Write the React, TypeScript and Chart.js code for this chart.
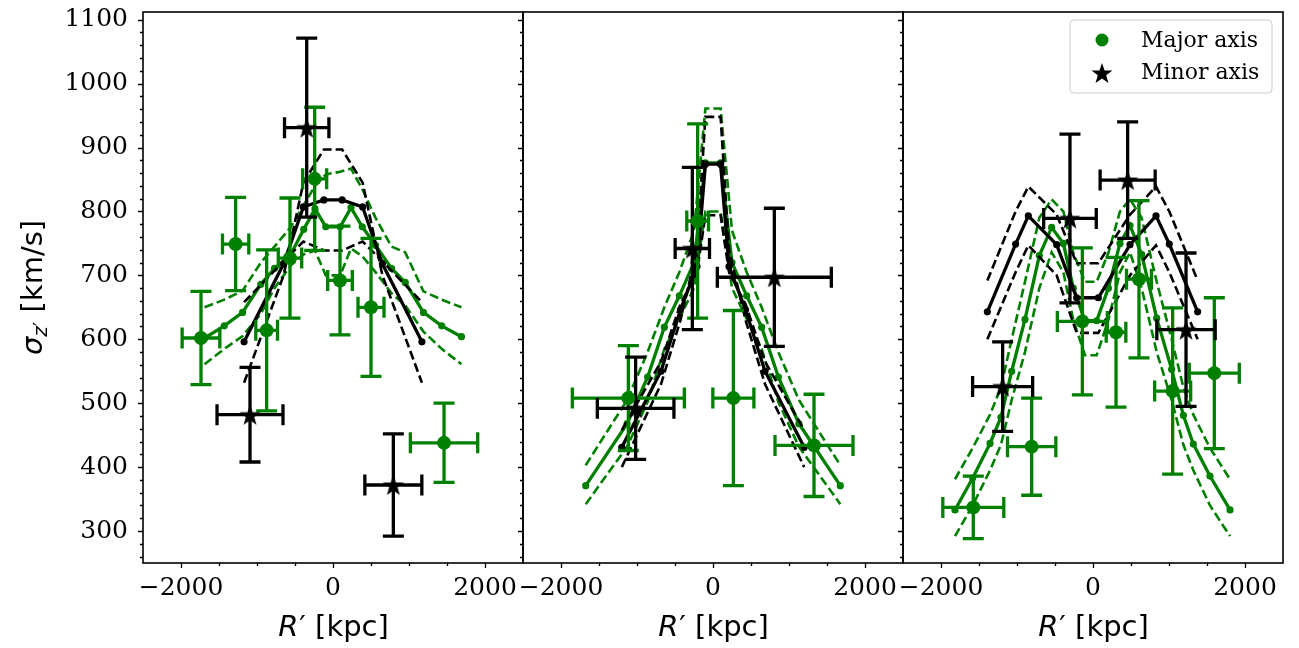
import React, { useEffect, useRef } from 'react';
import { Chart, registerables } from 'chart.js';
Chart.register(...registerables);

const GREEN = '#008000';
const BLACK = '#000000';

// axes
const xTickValues = [-2000, 0, 2000];
const yTickValues = [300, 400, 500, 600, 700, 800, 900, 1000, 1100];
const xMin = -2500, xMax = 2500;
const yMin = 250, yMax = 1112;
const legendLabels = ['Major axis', 'Minor axis'];

// ---------- Panel 1 ----------
const p1MajR = [-1737, -1281, -873, -566, -241, 92, 500, 1461];
const p1MajS = [602, 749, 614, 727, 851, 692, 650, 438];
const p1MajRErr = [248, 173, 143, 154, 158, 162, 171, 443];
const p1MajSErr = [73, 73, 126, 94, 112, 85, 108, 62];
const p1MinR = [-346, -1092, 794];
const p1MinS = [931, 482, 372];
const p1MinRErr = [292, 434, 375];
const p1MinSErr = [140, 74, 80];
const p1BlackR = [-1170, -650, -390, -120, 120, 390, 650, 1170];
const p1BlackS = [596, 718, 807, 818, 818, 807, 718, 596];
const p1BlackHi = [532, 700, 845, 897, 897, 845, 700, 532];
const p1BlackLo = [658, 722, 753, 739, 739, 753, 722, 658];
const p1GreenR = [-1690, -1430, -1190, -950, -770, -560, -385, -237, -95, 95, 237, 385, 560, 770, 950, 1190, 1430, 1690];
const p1GreenS = [602, 621, 642, 686, 711, 732, 772, 804, 776, 776, 806, 776, 747, 711, 689, 642, 621, 604];
const p1GreenHi = [650, 662, 676, 720, 745, 775, 810, 840, 858, 862, 867, 835, 790, 745, 736, 675, 662, 650];
const p1GreenLo = [561, 585, 605, 640, 680, 715, 733, 739, 700, 700, 742, 730, 705, 672, 653, 612, 585, 561];

// ---------- Panel 2 ----------
const p2MajR = [-1114, -202, 268, 1329];
const p2MajS = [508, 785, 508, 434];
const p2MajRErr = [737, 143, 270, 513];
const p2MajSErr = [82, 152, 137, 80];
const p2MinR = [-1018, -272, 807];
const p2MinS = [492, 742, 697];
const p2MinRErr = [504, 226, 750];
const p2MinSErr = [80, 127, 108];
const p2BlackR = [-1200, -684, -428, -211, -100, 100, 211, 428, 684, 1200];
const p2BlackS = [431, 550, 646, 714, 874, 874, 714, 646, 550, 431];
const p2BlackHi = [400, 530, 630, 740, 948, 948, 740, 630, 530, 400];
const p2BlackLo = [458, 565, 655, 705, 794, 794, 705, 655, 565, 458];
const p2GreenR = [-1675, -1130, -860, -640, -443, -250, -100, 100, 250, 443, 640, 860, 1130, 1675];
const p2GreenS = [371, 468, 541, 619, 668, 720, 876, 876, 720, 668, 619, 541, 468, 371];
const p2GreenHi = [403, 505, 580, 650, 705, 770, 961, 961, 770, 705, 650, 580, 505, 403];
const p2GreenLo = [342, 432, 502, 585, 632, 680, 800, 800, 680, 632, 585, 502, 432, 342];

// ---------- Panel 3 ----------
const p3MajR = [-1575, -807, -140, 303, 605, 1048, 1596];
const p3MajS = [337, 432, 628, 611, 694, 519, 547];
const p3MajRErr = [401, 318, 329, 129, 164, 237, 329];
const p3MajSErr = [49, 76, 115, 117, 123, 130, 118];
const p3MinR = [-1189, -303, 456, 1224];
const p3MinS = [526, 789, 849, 615];
const p3MinRErr = [395, 346, 362, 384];
const p3MinSErr = [70, 132, 91, 120];
const p3BlackR = [-1390, -1018, -851, -478, -215, 70, 487, 829, 1004, 1377];
const p3BlackS = [643, 749, 793, 748, 665, 665, 748, 793, 749, 643];
const p3BlackHi = [692, 800, 839, 795, 719, 719, 795, 839, 800, 692];
const p3BlackLo = [600, 705, 747, 700, 610, 610, 700, 747, 705, 600];
const p3GreenR = [-1816, -1583, -1355, -1211, -1070, -895, -706, -544, -390, -259, -105, 48, 202, 355, 487, 640, 838, 1035, 1189, 1320, 1539, 1803];
const p3GreenS = [333, 383, 437, 478, 550, 631, 731, 775, 750, 680, 629, 629, 680, 750, 778, 733, 633, 553, 481, 436, 386, 333];
const p3GreenHi = [381, 430, 482, 525, 600, 690, 790, 819, 800, 735, 690, 690, 735, 800, 819, 790, 690, 600, 525, 482, 430, 381];
const p3GreenLo = [292, 340, 395, 435, 505, 580, 680, 736, 705, 630, 575, 575, 630, 705, 736, 680, 580, 505, 435, 395, 340, 292];

type Panel = {
  majR: number[]; majS: number[]; majRErr: number[]; majSErr: number[];
  minR: number[]; minS: number[]; minRErr: number[]; minSErr: number[];
  blackR: number[]; blackS: number[]; blackHi: number[]; blackLo: number[];
  greenR: number[]; greenS: number[]; greenHi: number[]; greenLo: number[];
};

const panels: Panel[] = [
  { majR: p1MajR, majS: p1MajS, majRErr: p1MajRErr, majSErr: p1MajSErr, minR: p1MinR, minS: p1MinS, minRErr: p1MinRErr, minSErr: p1MinSErr,
    blackR: p1BlackR, blackS: p1BlackS, blackHi: p1BlackHi, blackLo: p1BlackLo, greenR: p1GreenR, greenS: p1GreenS, greenHi: p1GreenHi, greenLo: p1GreenLo },
  { majR: p2MajR, majS: p2MajS, majRErr: p2MajRErr, majSErr: p2MajSErr, minR: p2MinR, minS: p2MinS, minRErr: p2MinRErr, minSErr: p2MinSErr,
    blackR: p2BlackR, blackS: p2BlackS, blackHi: p2BlackHi, blackLo: p2BlackLo, greenR: p2GreenR, greenS: p2GreenS, greenHi: p2GreenHi, greenLo: p2GreenLo },
  { majR: p3MajR, majS: p3MajS, majRErr: p3MajRErr, majSErr: p3MajSErr, minR: p3MinR, minS: p3MinS, minRErr: p3MinRErr, minSErr: p3MinSErr,
    blackR: p3BlackR, blackS: p3BlackS, blackHi: p3BlackHi, blackLo: p3BlackLo, greenR: p3GreenR, greenS: p3GreenS, greenHi: p3GreenHi, greenLo: p3GreenLo },
];

// layout
const W = 1299, H = 648;
const panelLefts = [143, 523, 903];
const panelWidth = 380;
const plotTop = 9;
const plotBottom = 563;
const TICK_FONT = '"DejaVu Serif", serif';
const LABEL_FONT = '"DejaVu Sans", sans-serif';

function starPath(ctx: CanvasRenderingContext2D, cx: number, cy: number, r: number) {
  ctx.beginPath();
  for (let i = 0; i < 10; i++) {
    const ang = -Math.PI / 2 + (i * Math.PI) / 5;
    const rad = i % 2 === 0 ? r : r * 0.4;
    const x = cx + rad * Math.cos(ang);
    const y = cy + rad * Math.sin(ang);
    if (i === 0) ctx.moveTo(x, y); else ctx.lineTo(x, y);
  }
  ctx.closePath();
}

function makeStar(r: number, color: string) {
  const size = Math.ceil(r * 2 + 2);
  const c = document.createElement('canvas');
  c.width = size; c.height = size;
  const ctx = c.getContext('2d')!;
  ctx.fillStyle = color;
  starPath(ctx, size / 2, size / 2 + 1, r);
  ctx.fill();
  return c;
}

function pts(R: number[], S: number[]) {
  return R.map((r, k) => ({ x: r, y: S[k] }));
}

function makeConfig(p: Panel, idx: number, starImg: HTMLCanvasElement): any {
  const left = panelLefts[idx];
  const right = left + panelWidth;
  const showY = idx === 0;

  const drawErrorBars = (chart: any) => {
    const ctx: CanvasRenderingContext2D = chart.ctx;
    const xs = chart.scales.x, ys = chart.scales.y;
    const area = chart.chartArea;
    const cap = 10.5;
    const eb = (R: number[], S: number[], RE: number[], SE: number[], color: string) => {
      ctx.save();
      ctx.beginPath();
      ctx.rect(area.left, area.top, area.right - area.left, area.bottom - area.top);
      ctx.clip();
      ctx.strokeStyle = color;
      ctx.lineWidth = 3.3;
      for (let i = 0; i < R.length; i++) {
        const px = xs.getPixelForValue(R[i]);
        const py = ys.getPixelForValue(S[i]);
        const xl = xs.getPixelForValue(R[i] - RE[i]);
        const xr = xs.getPixelForValue(R[i] + RE[i]);
        const yt = ys.getPixelForValue(S[i] + SE[i]);
        const yb = ys.getPixelForValue(S[i] - SE[i]);
        ctx.beginPath();
        ctx.moveTo(xl, py); ctx.lineTo(xr, py);
        ctx.moveTo(xl, py - cap); ctx.lineTo(xl, py + cap);
        ctx.moveTo(xr, py - cap); ctx.lineTo(xr, py + cap);
        ctx.moveTo(px, yt); ctx.lineTo(px, yb);
        ctx.moveTo(px - cap, yt); ctx.lineTo(px + cap, yt);
        ctx.moveTo(px - cap, yb); ctx.lineTo(px + cap, yb);
        ctx.stroke();
      }
      ctx.restore();
    };
    eb(p.majR, p.majS, p.majRErr, p.majSErr, GREEN);
    eb(p.minR, p.minS, p.minRErr, p.minSErr, BLACK);
  };

  const decor = {
    id: 'decor' + idx,
    afterDatasetDraw(chart: any, args: any) {
      if (args.index === 2) drawErrorBars(chart);
    },
    afterDraw(chart: any) {
      const ctx: CanvasRenderingContext2D = chart.ctx;
      const xs = chart.scales.x, ys = chart.scales.y;
      const a = chart.chartArea;
      ctx.save();
      ctx.strokeStyle = '#000';
      // ticks
      ctx.lineWidth = 1.3;
      ctx.beginPath();
      for (let v = 260; v <= yMax; v += 20) {
        const major = v % 100 === 0;
        const len = major ? 5 : 3;
        const y = Math.round(ys.getPixelForValue(v)) + 0.5;
        ctx.moveTo(a.left - len, y); ctx.lineTo(a.left, y);
      }
      for (let v = xMin; v <= xMax; v += 500) {
        if (v <= xMin || v >= xMax) continue;
        const major = v % 2000 === 0;
        const len = major ? 5 : 3;
        const x = Math.round(xs.getPixelForValue(v)) + 0.5;
        ctx.moveTo(x, a.bottom); ctx.lineTo(x, a.bottom + len);
      }
      ctx.stroke();
      // frame
      ctx.lineWidth = 1.6;
      ctx.strokeRect(a.left, a.top, a.right - a.left, a.bottom - a.top);

      // x title: R′ [kpc]
      ctx.fillStyle = '#000';
      ctx.textBaseline = 'alphabetic';
      ctx.textAlign = 'left';
      const fItal = 'italic 29px ' + LABEL_FONT;
      const fNorm = '29px ' + LABEL_FONT;
      ctx.font = fItal; const wR = ctx.measureText('R').width;
      ctx.font = fNorm; const wRest = ctx.measureText('′ [kpc]').width;
      const cx = (a.left + a.right) / 2;
      const sx = cx - (wR + wRest) / 2;
      const by = 636;
      ctx.font = fItal; ctx.fillText('R', sx, by);
      ctx.font = fNorm; ctx.fillText('′ [kpc]', sx + wR + 1, by);

      if (showY) {
        ctx.save();
        ctx.translate(32, (a.top + a.bottom) / 2);
        ctx.rotate(-Math.PI / 2);
        const fSub = '20px ' + LABEL_FONT;
        const fSubIt = 'italic 20px ' + LABEL_FONT;
        ctx.font = fItal; const w1 = ctx.measureText('σ').width;
        ctx.font = fSubIt; const w2 = ctx.measureText('z').width;
        ctx.font = fSub; const w3 = ctx.measureText('′').width;
        ctx.font = fNorm; const w4 = ctx.measureText(' [km/s]').width;
        let x0 = -(w1 + w2 + w3 + w4) / 2;
        const b = 10;
        ctx.font = fItal; ctx.fillText('σ', x0, b); x0 += w1;
        ctx.font = fSubIt; ctx.fillText('z', x0, b + 5); x0 += w2;
        ctx.font = fSub; ctx.fillText('′', x0, b + 5); x0 += w3;
        ctx.font = fNorm; ctx.fillText(' [km/s]', x0, b);
        ctx.restore();
      }

      if (idx === 2) {
        // legend
        const lx = 1070, ly = 20, lw = 202, lh = 73, r = 4;
        ctx.beginPath();
        ctx.moveTo(lx + r, ly);
        ctx.arcTo(lx + lw, ly, lx + lw, ly + lh, r);
        ctx.arcTo(lx + lw, ly + lh, lx, ly + lh, r);
        ctx.arcTo(lx, ly + lh, lx, ly, r);
        ctx.arcTo(lx, ly, lx + lw, ly, r);
        ctx.closePath();
        ctx.fillStyle = 'rgba(255,255,255,0.8)';
        ctx.fill();
        ctx.strokeStyle = '#cccccc';
        ctx.lineWidth = 1;
        ctx.stroke();
        ctx.fillStyle = GREEN;
        ctx.beginPath();
        ctx.arc(1102, 40, 6.5, 0, Math.PI * 2);
        ctx.fill();
        ctx.fillStyle = BLACK;
        starPath(ctx, 1102, 74, 11);
        ctx.fill();
        ctx.fillStyle = '#000';
        ctx.font = '22px ' + TICK_FONT;
        ctx.textBaseline = 'middle';
        ctx.fillText(legendLabels[0], 1141, 41);
        ctx.fillText(legendLabels[1], 1141, 73);
      }
      ctx.restore();
    },
  };

  const lineDs = (R: number[], S: number[], color: string, dashed: boolean) => ({
    data: pts(R, S),
    showLine: true,
    borderColor: color,
    backgroundColor: color,
    borderWidth: dashed ? 2.6 : 3.3,
    borderDash: dashed ? [9, 4] : [],
    pointRadius: dashed ? 0 : 3.6,
    pointBackgroundColor: color,
    pointBorderWidth: 0,
    tension: 0,
  });

  const datasets = [
    {
      data: pts(p.minR, p.minS), showLine: false, pointStyle: starImg,
      pointRadius: 11, borderColor: BLACK, backgroundColor: BLACK,
    },
    {
      data: pts(p.majR, p.majS), showLine: false, pointStyle: 'circle',
      pointRadius: 7, pointBackgroundColor: GREEN, pointBorderWidth: 0, borderColor: GREEN, backgroundColor: GREEN,
    },
    lineDs(p.blackR, p.blackS, BLACK, false),
    lineDs(p.blackR, p.blackHi, BLACK, true),
    lineDs(p.blackR, p.blackLo, BLACK, true),
    lineDs(p.greenR, p.greenS, GREEN, false),
    lineDs(p.greenR, p.greenHi, GREEN, true),
    lineDs(p.greenR, p.greenLo, GREEN, true),
  ];

  return {
    type: 'scatter',
    data: { datasets },
    options: {
      responsive: false,
      animation: false,
      events: [],
      devicePixelRatio: 1,
      layout: {
        padding: { left: showY ? 0 : left, right: W - right, top: plotTop, bottom: 0 },
      },
      plugins: { legend: { display: false }, tooltip: { enabled: false } },
      scales: {
        x: {
          type: 'linear',
          min: xMin, max: xMax,
          afterBuildTicks: (s: any) => { s.ticks = xTickValues.map((v) => ({ value: v })); },
          afterFit: (s: any) => { s.height = H - plotBottom; s.paddingLeft = 0; s.paddingRight = 0; },
          grid: { display: false, drawTicks: false },
          border: { display: false },
          ticks: {
            autoSkip: false, maxRotation: 0, minRotation: 0, padding: 10, color: '#000',
            font: { family: TICK_FONT, size: 25 },
            callback: (v: number) => (v < 0 ? '\u2212' + Math.abs(v) : String(v)),
          },
        },
        y: {
          type: 'linear',
          display: showY,
          min: yMin, max: yMax,
          afterBuildTicks: (s: any) => { s.ticks = yTickValues.map((v) => ({ value: v })); },
          afterFit: (s: any) => {
            s.width = showY ? left : 0;
            s.paddingTop = 0; s.paddingBottom = 0;
          },
          grid: { display: false, drawTicks: false },
          border: { display: false },
          ticks: {
            autoSkip: false, padding: 15, color: '#000',
            font: { family: TICK_FONT, size: 25 },
            callback: (v: number) => String(v),
          },
        },
      },
    },
    plugins: [decor],
  };
}

export default function App() {
  const r0 = useRef<HTMLCanvasElement>(null);
  const r1 = useRef<HTMLCanvasElement>(null);
  const r2 = useRef<HTMLCanvasElement>(null);
  useEffect(() => {
    document.body.style.margin = '0';
    const starImg = makeStar(11, BLACK);
    const refs = [r0, r1, r2];
    const charts = panels.map((p, i) => new Chart(refs[i].current!, makeConfig(p, i, starImg)));
    return () => charts.forEach((c) => c.destroy());
  }, []);
  const st: React.CSSProperties = { position: 'absolute', left: 0, top: 0 };
  return (
    <div style={{ position: 'fixed', left: 0, top: 0, width: W, height: H, background: '#fff' }}>
      <canvas ref={r0} width={W} height={H} style={st} />
      <canvas ref={r1} width={W} height={H} style={st} />
      <canvas ref={r2} width={W} height={H} style={st} />
    </div>
  );
}
